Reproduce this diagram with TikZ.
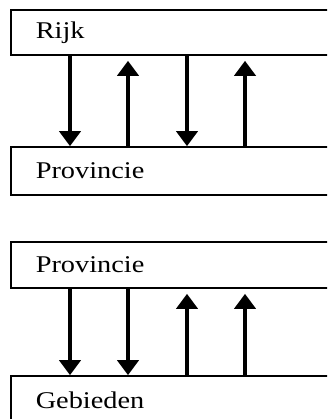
\documentclass[tikz,border=0pt]{standalone}
\usepackage{fontspec}
\usepackage{graphicx}
\setmainfont{Liberation Serif}
\usetikzlibrary{arrows.meta}
\tikzset{
  box/.style={draw=black, line width=1.6pt, rectangle, minimum width=370pt,
    text width=320pt, inner xsep=25pt, align=left, anchor=west,
    font=\fontsize{24}{24}\selectfont},
  dnarrow/.style={line width=4pt, -{Triangle[width=21pt,length=15pt]}},
  uparrow/.style={line width=4pt, -{Triangle[width=21pt,length=15pt]}, shorten >=5pt}
}
\newcommand{\wtxt}[1]{\scalebox{1.18}[1]{#1}}
\begin{document}
\begin{tikzpicture}[x=1pt,y=1pt]
\useasboundingbox (0,0) rectangle (327,-419);
\clip (0,0) rectangle (327,-419);
\node[box, minimum height=45pt] (rijk) at (10,-32.5) {\wtxt{Rijk}};
\node[box, minimum height=48pt] (prov1) at (10,-171) {\wtxt{Provincie}};
\node[box, minimum height=46pt] (prov2) at (10,-265) {\wtxt{Provincie}};
\node[box, minimum height=48pt] (geb) at (10,-400) {\wtxt{Gebieden}};
% top pair
\draw[dnarrow] ([xshift=60pt]rijk.south west) -- ([xshift=60pt]prov1.north west);
\draw[uparrow] ([xshift=118pt]prov1.north west) -- ([xshift=118pt]rijk.south west);
\draw[dnarrow] ([xshift=177pt]rijk.south west) -- ([xshift=177pt]prov1.north west);
\draw[uparrow] ([xshift=235pt]prov1.north west) -- ([xshift=235pt]rijk.south west);
% bottom pair
\draw[dnarrow] ([xshift=60pt]prov2.south west) -- ([xshift=60pt]geb.north west);
\draw[dnarrow] ([xshift=118pt]prov2.south west) -- ([xshift=118pt]geb.north west);
\draw[uparrow] ([xshift=177pt]geb.north west) -- ([xshift=177pt]prov2.south west);
\draw[uparrow] ([xshift=235pt]geb.north west) -- ([xshift=235pt]prov2.south west);
\end{tikzpicture}
\end{document}
